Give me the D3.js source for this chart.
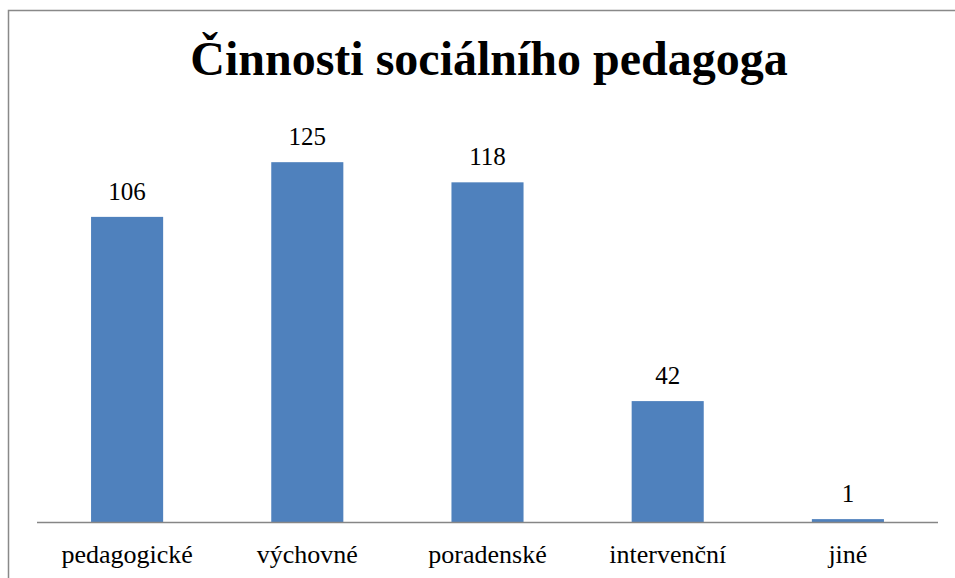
<!DOCTYPE html>
<html><head><meta charset="utf-8">
<script src="https://cdn.jsdelivr.net/npm/d3@7"></script>
<style>body{margin:0;background:#fff}svg{display:block}</style>
</head><body>
<script>
const categories = ["pedagogické","výchovné","poradenské","intervenční","jiné"];
const values = [106,125,118,42,1];
const title = "Činnosti sociálního pedagoga";

const W = 955, H = 578;
const FONT = "Liberation Serif";
const svg = d3.select("body").append("svg").attr("width", W).attr("height", H);
svg.append("rect").attr("width", W).attr("height", H).attr("fill", "#fff");
svg.append("rect").attr("x", 8.5).attr("y", 10.5).attr("width", 980).attr("height", 600)
  .attr("fill", "none").attr("stroke", "#898989").attr("stroke-width", 1.5);

const x = d3.scaleBand().domain(categories).range([37, 938]).paddingInner(0.6).paddingOuter(0.3);
const y = d3.scaleLinear().domain([0, 140]).range([522, 119]);

svg.append("text").attr("x", 489).attr("y", 75).attr("text-anchor", "middle")
  .attr("font-family", FONT).attr("font-weight", "bold")
  .attr("font-size", 48).attr("fill", "#000").text(title);

svg.selectAll("rect.bar").data(values).enter().append("rect").attr("class","bar")
  .attr("x", (d,i) => x(categories[i])).attr("width", x.bandwidth())
  .attr("y", d => y(d)).attr("height", d => y(0) - y(d)).attr("fill", "#4F81BD");

svg.append("line").attr("x1", 37).attr("x2", 938).attr("y1", 522.5).attr("y2", 522.5)
  .attr("stroke", "#868686").attr("stroke-width", 1.5);

svg.selectAll("text.val").data(values).enter().append("text").attr("class","val")
  .attr("x", (d,i) => x(categories[i]) + x.bandwidth()/2).attr("y", d => y(d) - 17)
  .attr("text-anchor", "middle").attr("font-family", FONT)
  .attr("font-size", 25).attr("fill", "#000").text(d => d);

const xAxis = d3.axisBottom(x).tickSize(0).tickPadding(0);
const g = svg.append("g").attr("transform", "translate(0,522)").call(xAxis);
g.attr("font-family", FONT).attr("font-size", 26);
g.select(".domain").remove();
g.selectAll("text").attr("dy", null).attr("y", 41).attr("font-family", FONT)
  .attr("font-size", 26).attr("fill", "#000");
</script>
</body></html>
